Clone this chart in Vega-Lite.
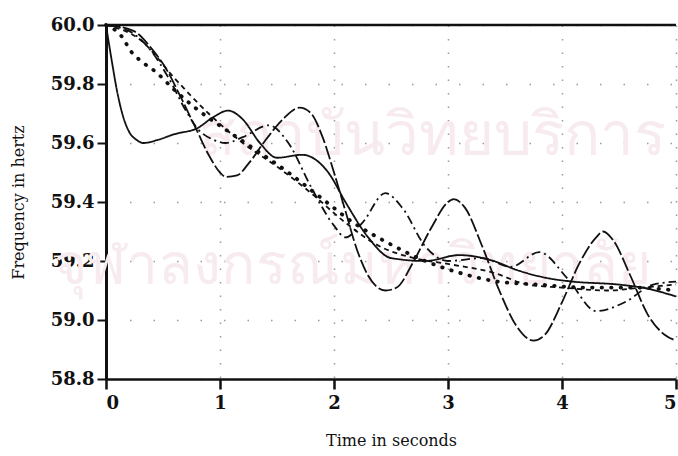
{
  "$schema": "https://vega.github.io/schema/vega-lite/v6.json",
  "width": 570,
  "height": 354,
  "autosize": {"type": "none"},
  "padding": {"left": 106, "top": 25, "right": 2, "bottom": 77},
  "background": "white",
  "config": {
    "view": {"stroke": null},
    "axis": {
      "domainColor": "#111",
      "tickColor": "#111",
      "labelColor": "#111",
      "titleColor": "#111",
      "labelFont": "DejaVu Serif",
      "labelFontWeight": "bold",
      "labelFontSize": 18,
      "titleFont": "DejaVu Serif",
      "titleFontWeight": "normal",
      "titleFontSize": 16,
      "gridColor": "#222",
      "gridWidth": 1.5,
      "gridOpacity": 0.45
    }
  },
  "datasets": {
    "marks": [
      {"txt": "สถาบันวิทยบริการ", "t": 2.86, "f": 59.62, "size": 60},
      {"txt": "จุฬาลงกรณ์มหาวิทยาลัย", "t": 2.16, "f": 59.18, "size": 57}
    ],
    "curves": [
      {"s": "A", "t": 0, "f": 60.0},
      {"s": "A", "t": 0.05, "f": 59.88},
      {"s": "A", "t": 0.1, "f": 59.77},
      {"s": "A", "t": 0.15, "f": 59.69},
      {"s": "A", "t": 0.2, "f": 59.64},
      {"s": "A", "t": 0.27, "f": 59.61},
      {"s": "A", "t": 0.33, "f": 59.6},
      {"s": "A", "t": 0.45, "f": 59.61},
      {"s": "A", "t": 0.6, "f": 59.63},
      {"s": "A", "t": 0.8, "f": 59.65},
      {"s": "A", "t": 0.95, "f": 59.69},
      {"s": "A", "t": 1.07, "f": 59.71},
      {"s": "A", "t": 1.2, "f": 59.68},
      {"s": "A", "t": 1.35, "f": 59.6},
      {"s": "A", "t": 1.5, "f": 59.55},
      {"s": "A", "t": 1.72, "f": 59.56},
      {"s": "A", "t": 1.95, "f": 59.5},
      {"s": "A", "t": 2.1, "f": 59.4},
      {"s": "A", "t": 2.3, "f": 59.28},
      {"s": "A", "t": 2.5, "f": 59.21},
      {"s": "A", "t": 2.8, "f": 59.2},
      {"s": "A", "t": 3.1, "f": 59.22},
      {"s": "A", "t": 3.4, "f": 59.2},
      {"s": "A", "t": 3.6, "f": 59.17},
      {"s": "A", "t": 3.9, "f": 59.14},
      {"s": "A", "t": 4.1, "f": 59.13},
      {"s": "A", "t": 4.5, "f": 59.12},
      {"s": "A", "t": 4.7, "f": 59.11},
      {"s": "A", "t": 5.0, "f": 59.08},

      {"s": "B", "t": 0, "f": 60.0},
      {"s": "B", "t": 0.24, "f": 59.98},
      {"s": "B", "t": 0.4, "f": 59.92},
      {"s": "B", "t": 0.53, "f": 59.85},
      {"s": "B", "t": 0.65, "f": 59.76},
      {"s": "B", "t": 0.8, "f": 59.64},
      {"s": "B", "t": 0.9, "f": 59.56},
      {"s": "B", "t": 1.0, "f": 59.5},
      {"s": "B", "t": 1.05, "f": 59.485},
      {"s": "B", "t": 1.15, "f": 59.49},
      {"s": "B", "t": 1.25, "f": 59.53},
      {"s": "B", "t": 1.4, "f": 59.61},
      {"s": "B", "t": 1.55, "f": 59.68},
      {"s": "B", "t": 1.7, "f": 59.72},
      {"s": "B", "t": 1.8, "f": 59.7},
      {"s": "B", "t": 1.9, "f": 59.62},
      {"s": "B", "t": 2.0, "f": 59.5},
      {"s": "B", "t": 2.1, "f": 59.37},
      {"s": "B", "t": 2.2, "f": 59.24},
      {"s": "B", "t": 2.3, "f": 59.15},
      {"s": "B", "t": 2.45, "f": 59.1},
      {"s": "B", "t": 2.55, "f": 59.11},
      {"s": "B", "t": 2.7, "f": 59.2},
      {"s": "B", "t": 2.85, "f": 59.31},
      {"s": "B", "t": 3.0, "f": 59.4},
      {"s": "B", "t": 3.05, "f": 59.41},
      {"s": "B", "t": 3.15, "f": 59.38},
      {"s": "B", "t": 3.3, "f": 59.25},
      {"s": "B", "t": 3.45, "f": 59.1},
      {"s": "B", "t": 3.6, "f": 58.98},
      {"s": "B", "t": 3.75, "f": 58.93},
      {"s": "B", "t": 3.85, "f": 58.95},
      {"s": "B", "t": 4.0, "f": 59.06},
      {"s": "B", "t": 4.15, "f": 59.19},
      {"s": "B", "t": 4.3, "f": 59.28},
      {"s": "B", "t": 4.36, "f": 59.3},
      {"s": "B", "t": 4.45, "f": 59.27},
      {"s": "B", "t": 4.6, "f": 59.15},
      {"s": "B", "t": 4.75, "f": 59.02},
      {"s": "B", "t": 4.9, "f": 58.95},
      {"s": "B", "t": 5.0, "f": 58.93},

      {"s": "C", "t": 0, "f": 60.0},
      {"s": "C", "t": 0.2, "f": 59.98},
      {"s": "C", "t": 0.4, "f": 59.91},
      {"s": "C", "t": 0.55, "f": 59.82},
      {"s": "C", "t": 0.7, "f": 59.71},
      {"s": "C", "t": 0.8, "f": 59.65},
      {"s": "C", "t": 0.95, "f": 59.61},
      {"s": "C", "t": 1.05, "f": 59.6},
      {"s": "C", "t": 1.2, "f": 59.62},
      {"s": "C", "t": 1.43, "f": 59.66},
      {"s": "C", "t": 1.6, "f": 59.6},
      {"s": "C", "t": 1.8, "f": 59.45},
      {"s": "C", "t": 2.0, "f": 59.32},
      {"s": "C", "t": 2.1, "f": 59.28},
      {"s": "C", "t": 2.25, "f": 59.33},
      {"s": "C", "t": 2.45, "f": 59.43},
      {"s": "C", "t": 2.6, "f": 59.38},
      {"s": "C", "t": 2.8, "f": 59.25},
      {"s": "C", "t": 3.0, "f": 59.2},
      {"s": "C", "t": 3.3, "f": 59.21},
      {"s": "C", "t": 3.55, "f": 59.18},
      {"s": "C", "t": 3.8, "f": 59.23},
      {"s": "C", "t": 4.05, "f": 59.14},
      {"s": "C", "t": 4.3, "f": 59.03},
      {"s": "C", "t": 4.55, "f": 59.06},
      {"s": "C", "t": 4.8, "f": 59.12},
      {"s": "C", "t": 5.0, "f": 59.13},

      {"s": "D", "t": 0, "f": 60.0},
      {"s": "D", "t": 0.3, "f": 59.95},
      {"s": "D", "t": 0.6, "f": 59.82},
      {"s": "D", "t": 0.9, "f": 59.7},
      {"s": "D", "t": 1.2, "f": 59.6},
      {"s": "D", "t": 1.5, "f": 59.52},
      {"s": "D", "t": 1.8, "f": 59.43},
      {"s": "D", "t": 2.1, "f": 59.33},
      {"s": "D", "t": 2.4, "f": 59.25},
      {"s": "D", "t": 2.7, "f": 59.21},
      {"s": "D", "t": 3.0, "f": 59.19},
      {"s": "D", "t": 3.4, "f": 59.16},
      {"s": "D", "t": 3.7, "f": 59.12},
      {"s": "D", "t": 4.0, "f": 59.11},
      {"s": "D", "t": 4.4, "f": 59.1},
      {"s": "D", "t": 4.7, "f": 59.11},
      {"s": "D", "t": 5.0, "f": 59.12}
    ],
    "mean": [
      {"t": 0, "f": 60.0},
      {"t": 0.14, "f": 59.96},
      {"t": 0.22, "f": 59.91},
      {"t": 0.3, "f": 59.88},
      {"t": 0.44, "f": 59.84},
      {"t": 0.6, "f": 59.78},
      {"t": 0.78, "f": 59.72},
      {"t": 1.07, "f": 59.64},
      {"t": 1.3, "f": 59.58},
      {"t": 1.6, "f": 59.5},
      {"t": 1.9, "f": 59.41},
      {"t": 2.17, "f": 59.33},
      {"t": 2.48, "f": 59.26},
      {"t": 2.74, "f": 59.21},
      {"t": 3.1, "f": 59.16},
      {"t": 3.44, "f": 59.13},
      {"t": 3.8, "f": 59.12},
      {"t": 4.2, "f": 59.11},
      {"t": 4.6, "f": 59.11},
      {"t": 5.0, "f": 59.1}
    ]
  },
  "layer": [
    {
      "data": {"name": "marks"},
      "mark": {"type": "text", "color": "#f7ebef", "font": "Noto Sans", "align": "center", "baseline": "middle"},
      "encoding": {
        "x": {"field": "t", "type": "quantitative"},
        "y": {"field": "f", "type": "quantitative"},
        "text": {"field": "txt"},
        "size": {"field": "size", "type": "quantitative", "scale": null}
      }
    },
    {
      "data": {"values": [{"y": 60.0}]},
      "mark": {"type": "rule", "color": "#111", "strokeWidth": 2.5},
      "encoding": {"y": {"field": "y", "type": "quantitative"}}
    },
    {
      "data": {"name": "curves"},
      "mark": {"type": "line", "interpolate": "monotone", "strokeWidth": 1.8, "color": "#111", "clip": true},
      "encoding": {
        "x": {
          "field": "t", "type": "quantitative",
          "scale": {"domain": [0, 5], "nice": false},
          "axis": {"values": [0, 1, 2, 3, 4, 5], "format": "d", "title": "Time in seconds", "tickSize": 10, "tickWidth": 2.5, "domainWidth": 2.5, "labelPadding": 5, "titlePadding": 20, "grid": true, "gridDash": [1.5, 12]}
        },
        "y": {
          "field": "f", "type": "quantitative",
          "scale": {"domain": [58.8, 60.0], "nice": false, "zero": false},
          "axis": {"values": [58.8, 59.0, 59.2, 59.4, 59.6, 59.8, 60.0], "format": ".1f", "title": "Frequency in hertz", "tickSize": 9, "tickWidth": 2, "domainWidth": 3, "labelPadding": 3, "titlePadding": 24, "grid": true, "gridDash": [1.5, 22]}
        },
        "detail": {"field": "s", "type": "nominal"},
        "strokeDash": {
          "field": "s", "type": "nominal",
          "scale": {"domain": ["A", "B", "C", "D"], "range": [[1, 0], [14, 3], [9, 4, 2, 4], [5, 4]]},
          "legend": null
        }
      }
    },
    {
      "data": {"name": "mean"},
      "mark": {"type": "line", "interpolate": "monotone", "strokeWidth": 3.8, "strokeCap": "round", "strokeDash": [0.5, 9], "color": "#111"},
      "encoding": {
        "x": {"field": "t", "type": "quantitative"},
        "y": {"field": "f", "type": "quantitative"}
      }
    }
  ]
}
